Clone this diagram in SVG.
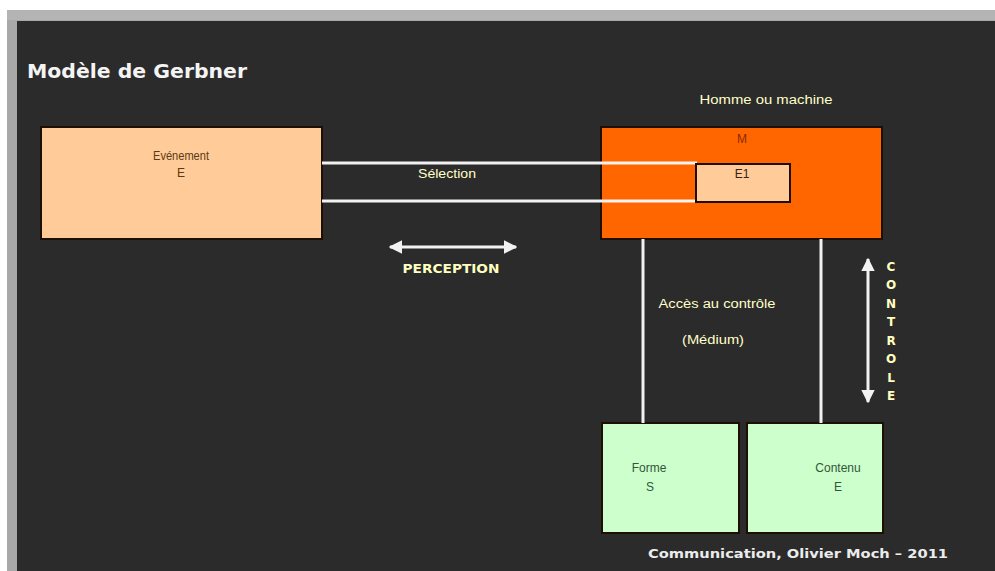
<svg xmlns="http://www.w3.org/2000/svg" width="995" height="571" viewBox="0 0 995 571">
  <defs>
    <style>
      .box { stroke: #1e0f05; stroke-width: 2; }
      .wire { stroke: #f2f2f2; stroke-width: 3; fill: none; }
      .lbl { font-family: "Liberation Sans", Arial, sans-serif; font-size: 12px; fill: #ffffc8; }
      .dark { font-family: "Liberation Sans", Arial, sans-serif; font-size: 12px; }
      .caps { font-family: "DejaVu Sans", "Liberation Sans", sans-serif; font-weight: bold; font-size: 12px; fill: #ffffc0; }
    </style>
    <marker id="head" viewBox="0 0 10 10" refX="9" refY="5" markerWidth="4.5" markerHeight="4.5" orient="auto-start-reverse">
      <path d="M0,0 L10,5 L0,10 z" fill="#f2f2f2"/>
    </marker>
  </defs>

  <!-- page and window frame -->
  <rect x="0" y="0" width="995" height="571" fill="#ffffff"/>
  <rect x="7" y="10" width="988" height="561" fill="#a8a8a8"/>
  <rect x="7" y="10" width="988" height="10" fill="#b4b4b4"/>
  <rect x="17" y="21" width="978" height="550" fill="#2b2b2b"/>

  <!-- title -->
  <text x="27" y="78" font-family="DejaVu Sans, sans-serif" font-size="20" font-weight="bold" fill="#f4f4f4" textLength="220" lengthAdjust="spacingAndGlyphs">Modèle de Gerbner</text>

  <!-- event node -->
  <g id="evenement">
    <rect class="box" x="41" y="127" width="281" height="112" fill="#ffcc99"/>
    <text class="dark" x="181" y="160" text-anchor="middle" fill="#5a3a14" textLength="56" lengthAdjust="spacingAndGlyphs">Evénement</text>
    <text class="dark" x="181" y="177" text-anchor="middle" fill="#5a3a14">E</text>
  </g>

  <!-- man or machine node -->
  <g id="machine">
    <rect class="box" x="601" y="127" width="281" height="112" fill="#ff6600"/>
    <text class="dark" x="742" y="143" text-anchor="middle" fill="#8a2a00" font-size="11">M</text>
  </g>

  <!-- form node -->
  <g id="forme">
    <rect class="box" x="602" y="423" width="137" height="110" fill="#ccffcc"/>
    <text class="dark" x="649" y="472" text-anchor="middle" fill="#33553a">Forme</text>
    <text class="dark" x="650" y="491" text-anchor="middle" fill="#33553a">S</text>
  </g>

  <!-- content node -->
  <g id="contenu">
    <rect class="box" x="747" y="423" width="136" height="110" fill="#ccffcc"/>
    <text class="dark" x="838" y="472" text-anchor="middle" fill="#33553a">Contenu</text>
    <text class="dark" x="838" y="491" text-anchor="middle" fill="#33553a">E</text>
  </g>

  <!-- connectors: the selection channel runs over the machine box into E1 -->
  <g id="connectors">
    <line class="wire" x1="322" y1="163" x2="697" y2="163"/>
    <line class="wire" x1="322" y1="201" x2="697" y2="201"/>
    <line class="wire" x1="643" y1="239" x2="643" y2="423"/>
    <line class="wire" x1="821" y1="239" x2="821" y2="423"/>
    <line class="wire" x1="390" y1="247" x2="516" y2="247" marker-start="url(#head)" marker-end="url(#head)"/>
    <line class="wire" x1="868" y1="259" x2="868" y2="402" marker-start="url(#head)" marker-end="url(#head)"/>
  </g>

  <!-- selected event inside the machine -->
  <g id="e1">
    <rect class="box" x="696" y="164" width="94" height="38" fill="#ffcc99"/>
    <text class="dark" x="742" y="178" text-anchor="middle" fill="#3a2010">E1</text>
  </g>

  <!-- labels -->
  <text class="lbl" x="447" y="178" text-anchor="middle" textLength="58" lengthAdjust="spacingAndGlyphs">Sélection</text>
  <text class="lbl" x="766" y="104" text-anchor="middle" textLength="133" lengthAdjust="spacingAndGlyphs">Homme ou machine</text>
  <text class="lbl" x="717" y="308" text-anchor="middle" textLength="117" lengthAdjust="spacingAndGlyphs">Accès au contrôle</text>
  <text class="lbl" x="713" y="344" text-anchor="middle" textLength="62" lengthAdjust="spacingAndGlyphs">(Médium)</text>
  <text class="caps" x="451" y="273" text-anchor="middle" textLength="97" lengthAdjust="spacingAndGlyphs">PERCEPTION</text>

  <g class="caps" text-anchor="middle">
    <text x="891" y="271">C</text>
    <text x="891" y="289">O</text>
    <text x="891" y="308">N</text>
    <text x="891" y="326">T</text>
    <text x="891" y="345">R</text>
    <text x="891" y="363">O</text>
    <text x="891" y="382">L</text>
    <text x="891" y="400">E</text>
  </g>

  <!-- footer -->
  <text x="648" y="558" font-family="DejaVu Sans, sans-serif" font-size="13" font-weight="bold" fill="#ececec" textLength="300" lengthAdjust="spacingAndGlyphs">Communication, Olivier Moch – 2011</text>
</svg>
